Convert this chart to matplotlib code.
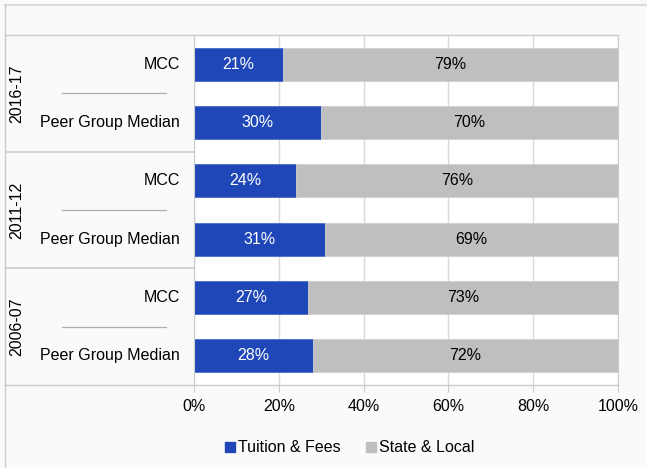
import matplotlib.pyplot as plt
from matplotlib.lines import Line2D
from matplotlib.patches import Patch

plt.rcParams['font.family'] = ['Liberation Sans', 'DejaVu Sans']

# data
years = ['2016-17', '2011-12', '2006-07']
groups = ['MCC', 'Peer Group Median']
tuition = [21, 30, 24, 31, 27, 28]
state_local = [79, 70, 76, 69, 73, 72]

BLUE = '#1f47b8'
GRAY = '#bfbfbf'
LINE = '#cccccc'
BG = '#fafafa'
FS = 11.5

W, H = 647, 468
fig = plt.figure(figsize=(W / 100, H / 100), dpi=100)
fig.patch.set_facecolor(BG)

# plot area and label area share the same vertical extent
x0, x1 = 194, 618
y0, y1 = 35, 385
ax = fig.add_axes([x0 / W, 1 - y1 / H, (x1 - x0) / W, (y1 - y0) / H])
lab = fig.add_axes([5 / W, 1 - y1 / H, (x0 - 5) / W, (y1 - y0) / H])

rows = list(range(len(tuition)))
ax.barh(rows, tuition, height=0.57, color=BLUE, edgecolor='#4a6ccc', linewidth=0.6, zorder=3)
ax.barh(rows, state_local, left=tuition, height=0.57, color=GRAY, edgecolor='#cfcfcf',
        linewidth=0.6, zorder=3)

for r, t, s in zip(rows, tuition, state_local):
    ax.text(t / 2, r, f'{t}%', ha='center', va='center', color='white', fontsize=FS, zorder=4)
    ax.text(t + s / 2, r, f'{s}%', ha='center', va='center', color='black', fontsize=FS, zorder=4)

ax.set_xlim(0, 100)
ax.set_ylim(5.5, -0.5)
ax.set_xticks([0, 20, 40, 60, 80, 100])
ax.set_xticklabels(['0%', '20%', '40%', '60%', '80%', '100%'], fontsize=FS)
ax.set_yticks([])
ax.tick_params(axis='x', length=5, color=LINE, pad=5)
ax.grid(axis='x', color='#d9d9d9', linewidth=1, zorder=0)
ax.set_facecolor('white')
for side in ['top', 'right', 'bottom']:
    ax.spines[side].set_color(LINE)
ax.spines['left'].set_visible(False)
ax.spines['bottom'].set_visible(False)

# left label panel with year groups
lab.set_facecolor(BG)
lab.set_xlim(5, x0)
lab.set_ylim(5.5, -0.5)
lab.set_xticks([])
lab.set_yticks([])
for side in ['top', 'bottom', 'left', 'right']:
    lab.spines[side].set_color(LINE)
for b in [1.5, 3.5]:
    lab.axhline(b, color=LINE, linewidth=1.2)
for i, yr in enumerate(years):
    lab.text(17, 2 * i + 0.5, yr, rotation=90, ha='center', va='center', fontsize=FS)
    for j, g in enumerate(groups):
        lab.text(180, 2 * i + j, g, ha='right', va='center', fontsize=FS)
    lab.plot([62, 166], [2 * i + 0.5, 2 * i + 0.5], color='#b0b0b0', linewidth=0.9)

# outer frame lines along the top and left edge
fig.add_artist(Line2D([5 / W, 1], [1 - 5 / H, 1 - 5 / H], color='#dcdcdc', linewidth=1.5))
fig.add_artist(Line2D([5 / W, 5 / W], [0, 1 - 5 / H], color=LINE, linewidth=1))
fig.add_artist(Line2D([5 / W, x1 / W], [1 - y0 / H, 1 - y0 / H], color=LINE, linewidth=1))
fig.add_artist(Line2D([5 / W, x1 / W], [1 - y1 / H, 1 - y1 / H], color=LINE, linewidth=1))

handles = [Patch(color=BLUE, label='Tuition & Fees'), Patch(color=GRAY, label='State & Local')]
fig.legend(handles=handles, loc='center', bbox_to_anchor=(350 / W, 1 - 448 / H), ncol=2,
           frameon=False, fontsize=FS, handlelength=0.6, handleheight=0.6,
           handletextpad=0.2, columnspacing=1.6)

fig.savefig('out.png', dpi=100, facecolor=BG)
